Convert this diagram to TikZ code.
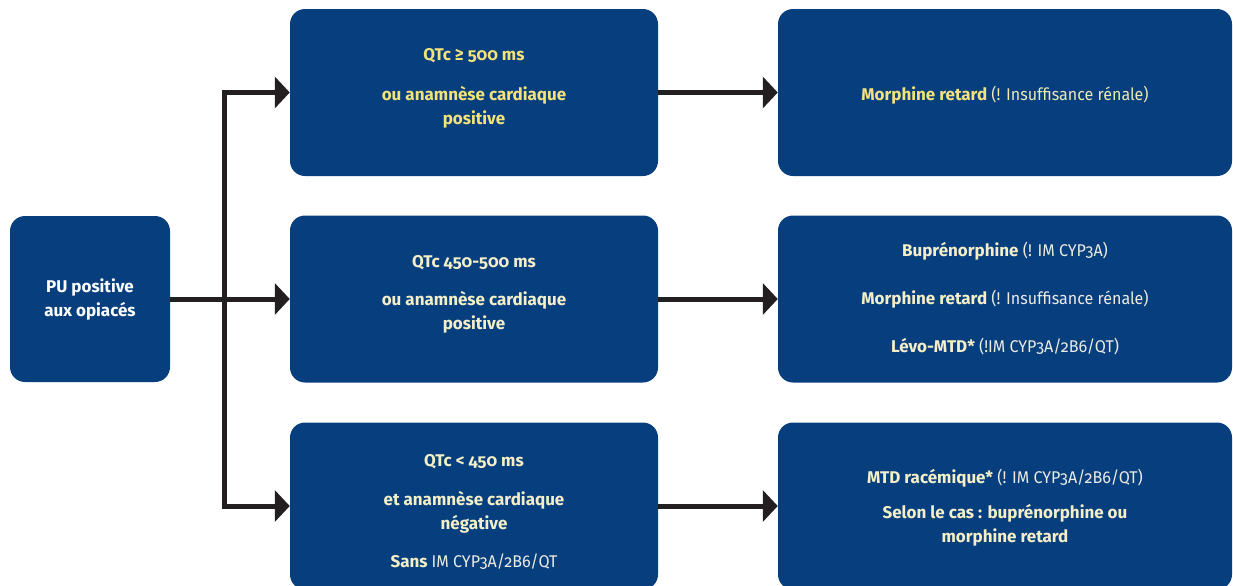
\documentclass[tikz,border=0pt]{standalone}
\usepackage{fontspec}
\setmainfont{Fira Sans}[Numbers=OldStyle, UprightFeatures={FakeStretch=0.945}]
\usetikzlibrary{arrows.meta}

\definecolor{bleu}{HTML}{073F7E}
\definecolor{noir}{HTML}{231F20}
\definecolor{jaune}{HTML}{F4E27A}
\definecolor{jaunep}{HTML}{EEE8B4}
\definecolor{creme}{HTML}{F4EFC8}
\definecolor{pale}{HTML}{ECEBE2}

\tikzset{
  boite/.style={fill=bleu, rounded corners=4.5mm, align=center, inner sep=0pt,
                font=\fontsize{14.5}{20.5}\selectfont},
  gras/.style={font=\fontsize{14.5}{20.5}\selectfont\bfseries},
  fleche/.style={draw=noir, line width=1.5mm, -{Triangle[length=4.5mm,width=9.3mm]}}
}

\begin{document}
\begin{tikzpicture}[x=0.3mm,y=-0.3mm]

\useasboundingbox (0,0) rectangle (1233,585);

% depart
\node[boite, gras, text=white, minimum width=160*0.3mm, minimum height=166*0.3mm]
   (pu) at (90,299) {PU positive\\aux opiacés};

% colonne QTc
\begin{scope}[every node/.append style={boite, gras, minimum width=368*0.3mm, minimum height=167*0.3mm}]
  \node[text=jaune] (q1) at (474,92.5) {QTc ≥ 500 ms\\[13pt]ou anamnèse cardiaque\\positive\rule[-10.4pt]{0pt}{10.4pt}};
  \node[text=creme] (q2) at (474,299) {QTc 450-500 ms\\[12pt]ou anamnèse cardiaque\\positive\rule[-10.4pt]{0pt}{10.4pt}};
  \node[text=creme] (q3) at (474,506) {\rule{0pt}{20.5pt}QTc < 450 ms\\[12pt]et anamnèse cardiaque\\négative\\[12pt]Sans {\mdseries\color{pale}IM CYP3A/2B6/QT}};
\end{scope}

% colonne traitements
\begin{scope}[every node/.append style={boite, minimum width=454*0.3mm, minimum height=167*0.3mm}]
  \node[text=jaunep] (t1) at (1005,92.5) {\rule{0pt}{17.5pt}\textbf{\color{jaune}Morphine retard} (! Insuffisance rénale)};
  \node[text=pale] (t2) at (1005,299) {\textbf{\color{creme}Buprénorphine} (! IM CYP3A)\\[20.5pt]
     \textbf{\color{creme}Morphine retard} (! Insuffisance rénale)\\[20.5pt]
     \textbf{\color{creme}Lévo-MTD*} (!IM CYP3A/2B6/QT)};
  \node[text=pale] (t3) at (1005,506) {\rule{0pt}{15.7pt}\textbf{\color{creme}MTD racémique*} (! IM CYP3A/2B6/QT)\\[9.5pt]
     \textbf{\color{creme}Selon le cas : buprénorphine ou}\\\textbf{\color{creme}morphine retard}};
\end{scope}

\coordinate (jn) at (224,299);

\draw[fleche] (pu) -- (q2);
\draw[fleche] (jn) |- (q1);
\draw[fleche] (jn) |- (q3);

\foreach \i in {1,2,3}{%
   \draw[fleche] (q\i) -- (t\i);
}

\end{tikzpicture}
\end{document}
